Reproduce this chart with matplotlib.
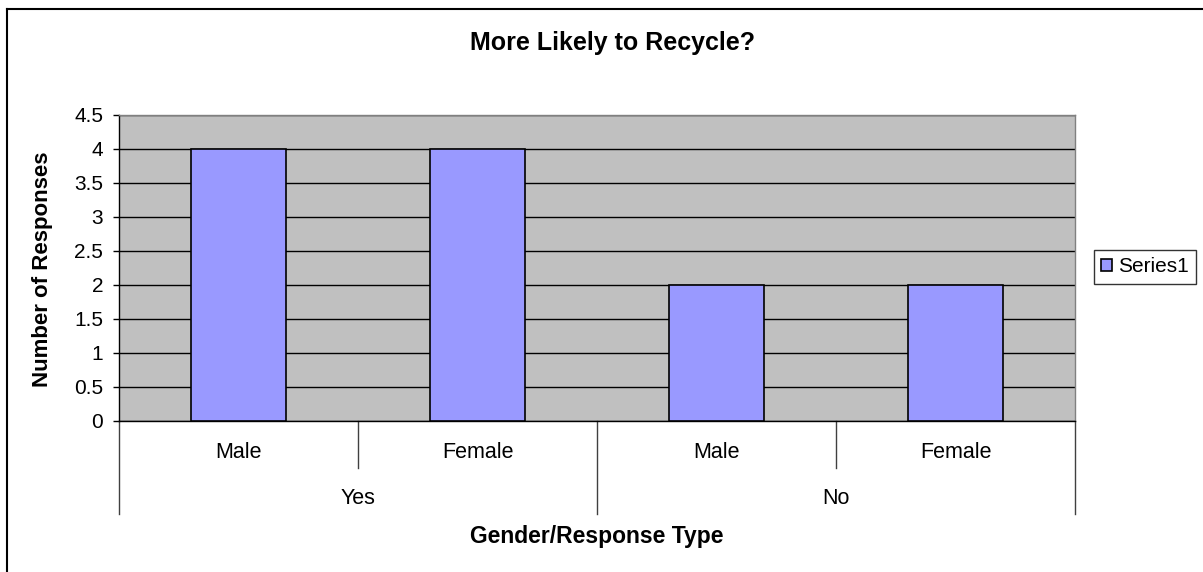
import matplotlib.pyplot as plt
from matplotlib.lines import Line2D

plt.rcParams['font.family'] = ['Liberation Sans', 'DejaVu Sans']

# data
groups = ["Yes", "No"]
genders = ["Male", "Female"]
responses = [4, 4, 2, 2]
series_name = "Series1"
y_ticks = [0, 0.5, 1, 1.5, 2, 2.5, 3, 3.5, 4, 4.5]
y_tick_labels = ["0", "0.5", "1", "1.5", "2", "2.5", "3", "3.5", "4", "4.5"]

W, H = 1203, 572
fig = plt.figure(figsize=(W / 100, H / 100), dpi=100)
ax = fig.add_axes([119 / W, (H - 421) / H, 956 / W, 306 / H])

n = len(responses)
x = [i + 0.5 for i in range(n)]
bars = ax.bar(x, responses, width=0.4, color="#9999ff", edgecolor="black",
              linewidth=1.2, zorder=3, label=series_name)

ax.set_facecolor("#c0c0c0")
ax.set_xlim(0, n)
ax.set_ylim(0, 4.5)
ax.set_yticks(y_ticks)
ax.set_yticklabels(y_tick_labels, fontsize=15)
ax.yaxis.grid(True, color="black", linewidth=1.0, zorder=1)
ax.tick_params(axis="y", direction="out", length=4.5, width=1, pad=7)
ax.set_xticks([])

for side in ["top", "right"]:
    ax.spines[side].set_color("#808080")
    ax.spines[side].set_linewidth(1.0)
ax.spines["left"].set_linewidth(1.0)
ax.spines["bottom"].set_linewidth(1.0)

# hierarchical category axis below the plot
trans = ax.get_xaxis_transform()
sub_drop = 47 / 306
grp_drop = 93 / 306
cat_labels = [g for _ in groups for g in genders]
for i, lab in enumerate(cat_labels):
    ax.text(x[i], -31 / 306, lab, transform=trans, ha="center", va="center", fontsize=15.5)
per = len(genders)
for gi, grp in enumerate(groups):
    start = gi * per
    ax.text(start + per / 2, -77 / 306, grp, transform=trans, ha="center",
            va="center", fontsize=15.5)
    for k in range(1, per):
        ax.add_line(Line2D([start + k, start + k], [0, -sub_drop], transform=trans,
                           color="#404040", linewidth=1, clip_on=False))
for b in range(len(groups) + 1):
    ax.add_line(Line2D([b * per, b * per], [0, -grp_drop], transform=trans,
                       color="#404040", linewidth=1, clip_on=False))

fig.text(43 / W, 1 - 269 / H, "Number of Responses", rotation=90, ha="center",
         va="center", fontsize=16, fontweight="bold")
fig.text(597 / W, 1 - 537 / H, "Gender/Response Type", ha="center", va="center",
         fontsize=16.5, fontweight="bold")
fig.text(613 / W, 1 - 43 / H, "More Likely to Recycle?", ha="center", va="center",
         fontsize=18, fontweight="bold")

leg = fig.legend(handles=[bars], loc="center left",
                 bbox_to_anchor=(1094 / W, 1 - 267 / H), frameon=True,
                 fancybox=False, edgecolor="black", fontsize=15,
                 handlelength=0.5, handleheight=0.5, handletextpad=0.3,
                 borderpad=0.35, borderaxespad=0)
leg.get_frame().set_linewidth(1.0)

# outer chart border (left and top edges visible)
fig.add_artist(Line2D([7 / W, 7 / W], [0, 1 - 9 / H], transform=fig.transFigure,
                      color="black", linewidth=1.5))
fig.add_artist(Line2D([7 / W, 1], [1 - 9 / H, 1 - 9 / H], transform=fig.transFigure,
                      color="black", linewidth=1.5))

fig.savefig("out.png", dpi=100, facecolor="white")
